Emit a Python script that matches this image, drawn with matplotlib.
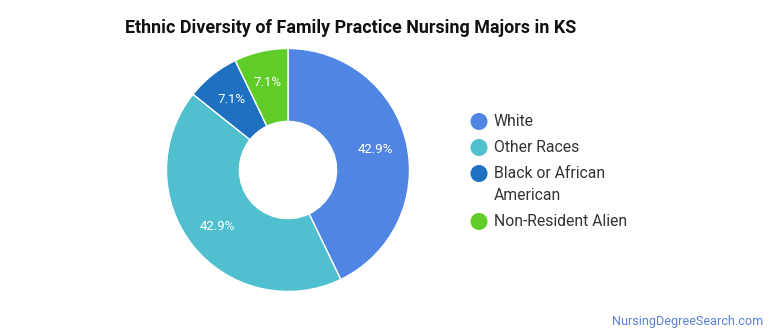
import matplotlib.pyplot as plt

plt.rcParams['font.family'] = ['Roboto', 'DejaVu Sans']

title = 'Ethnic Diversity of Family Practice Nursing Majors in KS'
groups = ['White', 'Other Races', 'Black or African\nAmerican', 'Non-Resident Alien']
counts = [6, 6, 1, 1]
colors = ['#5185e3', '#50c0cf', '#1e70c1', '#60cc27']

W, H = 770, 335
fig = plt.figure(figsize=(W / 100, H / 100), dpi=100)

# donut, centred at (288, 170) px with outer radius ~121 px
cx, cy, r = 288, 170, 121.5
ax = fig.add_axes([(cx - r) / W, 1 - (cy + r) / H, 2 * r / W, 2 * r / H])
wedges, _, autotexts = ax.pie(
    counts, colors=colors, startangle=90, counterclock=False,
    radius=1, autopct='%1.1f%%', pctdistance=0.74,
    wedgeprops=dict(width=0.6, edgecolor='white', linewidth=1),
    textprops=dict(color='white', fontsize=9.5))
ax.set_xlim(-1, 1)
ax.set_ylim(-1, 1)
ax.set_aspect('equal')
ax.axis('off')

fig.text(125 / W, 1 - 28 / H, title, fontsize=12.9, fontweight='bold',
         color='#111111', va='center', ha='left')

# legend drawn in pixel space
lax = fig.add_axes([0, 0, 1, 1])
lax.set_xlim(0, W)
lax.set_ylim(H, 0)
lax.axis('off')
y = 121.5
for name, col in zip(groups, colors):
    lax.scatter([479], [y], s=150, color=col, edgecolors='none')
    lines = name.split('\n')
    for i, line in enumerate(lines):
        lax.text(494, y + i * 22, line, fontsize=11.3, color='#333333',
                 va='center', ha='left')
    y += 26 + 22 * (len(lines) - 1)

fig.text(763 / W, 1 - 321 / H, 'NursingDegreeSearch.com', fontsize=9.1,
         color='#5b80d6', ha='right', va='center')

fig.savefig('out.png', dpi=100)
